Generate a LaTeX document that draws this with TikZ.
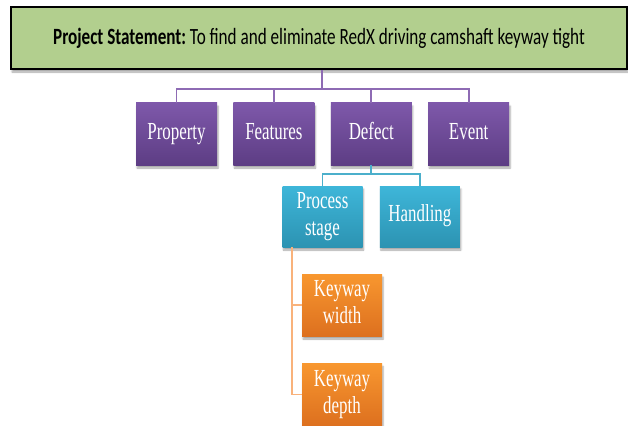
\documentclass[tikz,border=0pt]{standalone}
\usepackage{fontspec}
\usetikzlibrary{positioning,shadows.blur}
\newfontfamily\boxfont{Liberation Serif}[FakeStretch=0.69]
\newfontfamily\headfont{Carlito}[FakeStretch=0.735]
\definecolor{stmtgreen}{HTML}{B2CF8E}
\definecolor{purptop}{HTML}{7E58AA}
\definecolor{purpbot}{HTML}{5D3D84}
\definecolor{tealtop}{HTML}{3EB6D9}
\definecolor{tealbot}{HTML}{2C93B2}
\definecolor{orgtop}{HTML}{F8972F}
\definecolor{orgbot}{HTML}{DD701F}
\definecolor{purpline}{HTML}{8E6BB4}
\definecolor{tealline}{HTML}{4BAFCB}
\definecolor{orgline}{HTML}{F9B27B}

\begin{document}
\begin{tikzpicture}[x=1pt, y=-1pt,
                    boxshadow/.style={blur shadow={shadow xshift=1pt, shadow yshift=-3pt, shadow blur steps=6, shadow opacity=35}},
                    stmtnode/.style={rectangle, draw=black, line width=1.6pt, fill=stmtgreen, minimum width=616pt, minimum height=62pt, inner sep=0pt, boxshadow, font=\headfont\fontsize{23.3}{26}\selectfont},
                    purpnode/.style={rectangle, top color=purptop, bottom color=purpbot, draw=none, text=white, minimum width=81pt, minimum height=62pt, inner sep=0pt, align=center, boxshadow, font=\boxfont\fontsize{24.5}{27}\selectfont},
                    tealnode/.style={purpnode, top color=tealtop, bottom color=tealbot, minimum width=80pt, minimum height=61pt},
                    orgnode/.style={purpnode, top color=orgtop, bottom color=orgbot, minimum width=80pt},
                    purpline/.style={draw=purpline, line width=1.8pt},
                    tealline/.style={draw=tealline, line width=1.8pt},
                    orgline/.style={draw=orgline, line width=1.8pt}]
    \useasboundingbox (0,0) rectangle (628,425);
    % nodes
    \node[stmtnode]      (stmt)     at (319,38)             {\textbf{Project Statement:}\,To find and eliminate RedX driving camshaft keyway tight};
    \node[purpnode]      (prop)     at (176.5,134)          {\strut Property};
    \node[purpnode]      (feat)     [right=16pt of prop]    {\strut Features};
    \node[purpnode]      (defect)   [right=16pt of feat]    {\strut Defect};
    \node[purpnode]      (event)    [right=16pt of defect]  {\strut Event};
    \node[tealnode]      (proc)     at (322.5,216.5)        {\strut Process\\\strut stage};
    \node[tealnode]      (hand)     [right=17pt of proc]    {\strut Handling};
    \node[orgnode]       (kwidth)   at (342,305)            {\strut Keyway\\\strut width};
    \node[orgnode]       (kdepth)   [below=27pt of kwidth]  {\strut Keyway\\\strut depth};
    % joints
    \coordinate (pj) at (322,89);
    \coordinate (dj) at (defect.south |- 0,174);
    \coordinate (ps) at ([xshift=9.5pt]proc.south west);
    % lines
    \draw[purpline] (stmt.south -| pj) -- (pj);
    \draw[purpline] (pj) -| (prop.north);
    \draw[purpline] (pj) -| (feat.north);
    \draw[purpline] (pj) -| (defect.north);
    \draw[purpline] (pj) -| (event.north);
    \draw[tealline] (defect.south) -- (dj);
    \draw[tealline] (dj) -| (proc.north);
    \draw[tealline] (dj) -| (hand.north);
    \draw[orgline] (ps) |- (kwidth.west);
    \draw[orgline] (ps) |- (kdepth.west);
\end{tikzpicture}
\end{document}
